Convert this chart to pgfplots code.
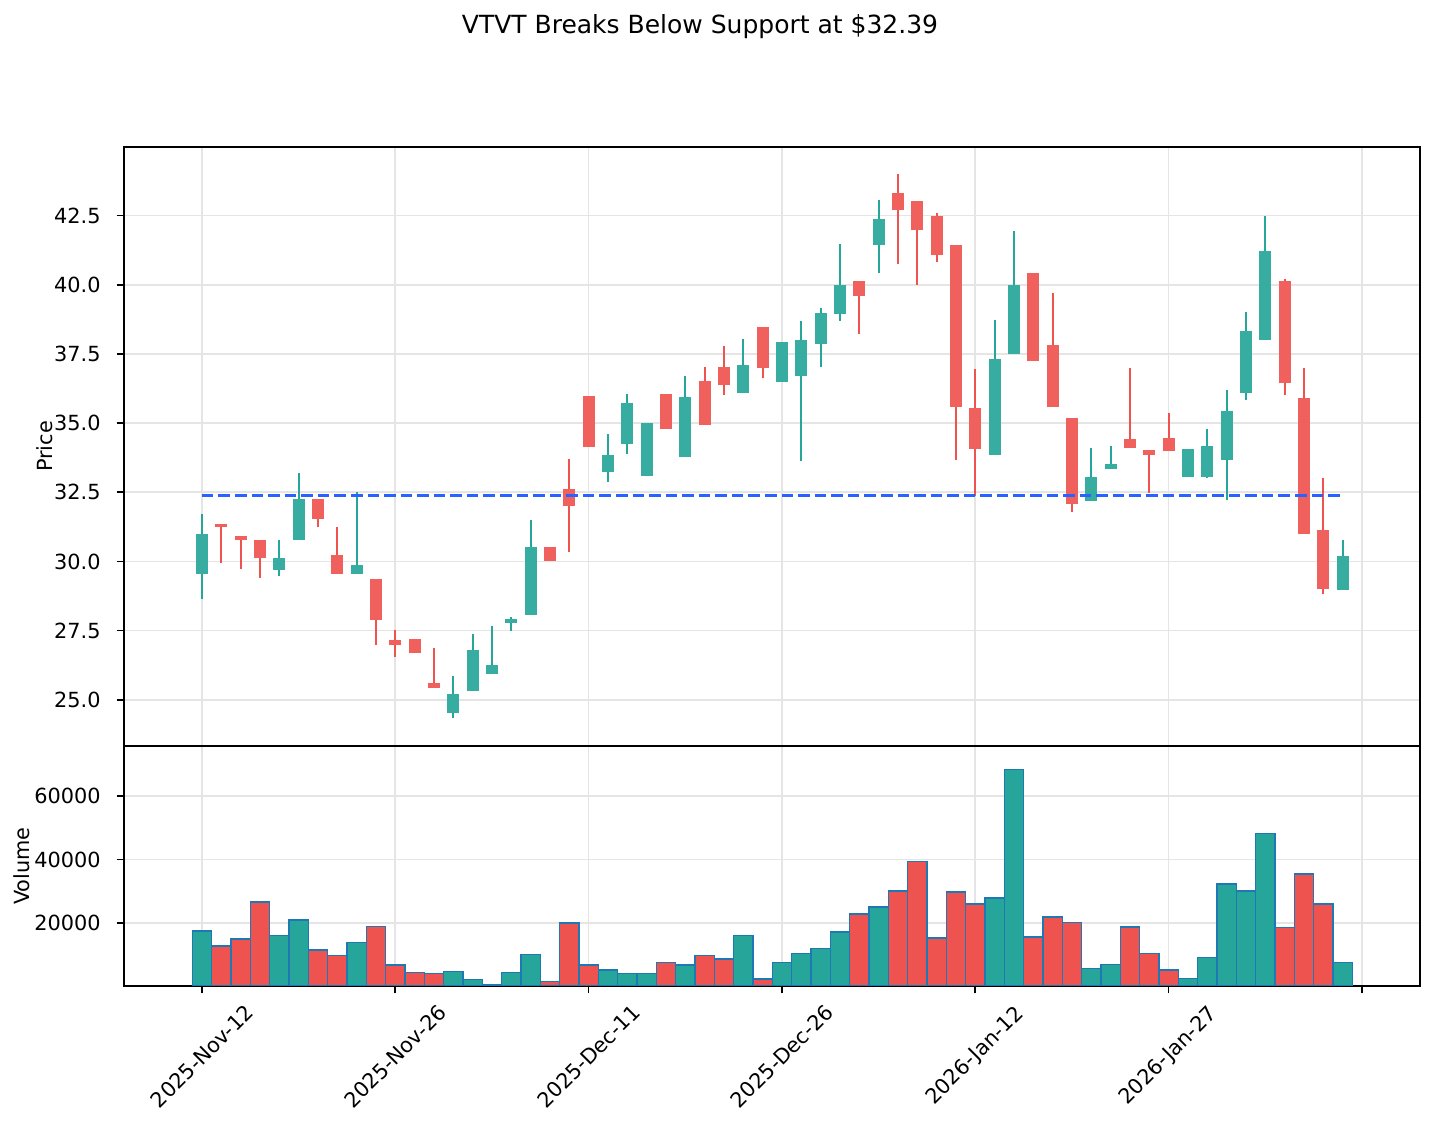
\documentclass[border=0pt]{standalone}
\usepackage{pgfplots}
\usepackage{pgfplotstable}
\usepackage{fontspec}
\setmainfont{DejaVu Sans}
\pgfplotsset{compat=1.18}

\definecolor{upcol}{HTML}{26A69A}
\definecolor{downcol}{HTML}{EF5350}
\definecolor{voledge}{HTML}{1F77B4}
\definecolor{supportcol}{HTML}{2962FF}
\definecolor{gridcol}{HTML}{E5E5E5}

% daily OHLC, x = trading-day index (0 = 2025-Nov-12)
\pgfplotstableread{
x o h l c
0 29.54 31.73 28.66 31.01
4 29.70 30.79 29.49 30.12
5 30.79 33.18 30.79 32.25
8 29.54 32.51 29.54 29.86
13 24.54 25.86 24.34 25.22
14 25.31 27.38 25.31 26.81
15 25.95 27.67 25.95 26.27
16 27.77 27.99 27.49 27.93
17 28.06 31.51 28.06 30.51
21 33.24 34.59 32.86 33.84
22 34.25 36.04 33.90 35.72
23 33.09 35.00 33.09 35.00
25 33.76 36.69 33.76 35.94
28 36.10 38.03 36.10 37.10
30 36.48 37.92 36.48 37.92
31 36.69 38.70 33.64 37.99
32 37.87 39.15 37.03 38.99
33 38.96 41.47 38.70 40.00
35 41.43 43.07 40.43 42.39
41 33.84 38.72 33.84 37.32
42 37.50 41.95 37.50 40.00
46 32.17 34.09 32.17 33.07
47 33.33 34.17 33.33 33.53
51 33.07 34.06 33.07 34.06
52 33.07 34.77 33.01 34.17
53 33.68 36.21 32.21 35.43
54 36.10 39.03 35.83 38.33
55 38.02 42.49 38.02 41.23
59 28.97 30.77 28.97 30.21
}\upcandles

\pgfplotstableread{
x o h l c
1 31.34 31.34 29.96 31.24
2 30.91 30.91 29.71 30.79
3 30.77 30.77 29.42 30.13
6 32.25 32.25 31.23 31.53
7 30.25 31.26 29.54 29.54
9 29.35 29.35 26.99 27.89
10 27.17 27.52 26.56 26.98
11 27.21 27.21 26.68 26.68
12 25.62 26.86 25.41 25.41
18 30.51 30.51 30.01 30.01
19 32.61 33.72 30.33 32.02
20 35.98 35.98 34.12 34.12
24 36.05 36.05 34.79 34.79
26 36.52 37.02 34.94 34.94
27 37.03 37.78 36.01 36.39
29 38.48 38.48 36.62 37.00
34 40.14 40.14 38.22 39.59
36 43.33 44.01 40.76 42.69
37 43.04 43.04 40.00 41.97
38 42.50 42.58 40.83 41.06
39 41.44 41.44 33.67 35.57
40 35.55 36.97 32.36 34.08
43 40.41 40.41 37.23 37.23
44 37.84 39.70 35.57 35.57
45 35.19 35.19 31.79 32.07
48 34.41 36.99 34.09 34.09
49 34.03 34.03 32.48 33.84
50 34.45 35.37 34.00 34.00
56 40.12 40.21 36.00 36.44
57 35.91 37.00 31.00 31.00
58 31.12 33.03 28.84 29.01
}\downcandles

% daily volume, split by candle direction
\pgfplotstableread{
x v
0 17400
4 15900
5 20900
8 13700
13 4500
14 2000
15 500
16 4200
17 9900
21 5000
22 3900
23 3900
25 6700
28 15900
30 7400
31 10200
32 11800
33 17100
35 25000
41 27800
42 68500
46 5600
47 6800
51 2300
52 9000
53 32200
54 30100
55 48300
59 7400
}\upvol

\pgfplotstableread{
x v
1 12700
2 14900
3 26600
6 11400
7 9600
9 18900
10 6700
11 4200
12 3900
18 1400
19 19900
20 6700
24 7400
26 9600
27 8600
29 2200
34 22800
36 30000
37 39400
38 15200
39 29700
40 25900
43 15500
44 21800
45 20000
48 18700
49 10200
50 5100
56 18500
57 35400
58 25900
}\downvol

\pgfplotsset{
  panel/.style={
    scale only axis,
    width=622.08pt,
    xmin=-4.03, xmax=63.0,
    xtick={0,10,20,30,40,50,60},
    xtick pos=lower, ytick pos=left,
    grid=major,
    major grid style={draw=gridcol, line width=0.8pt},
    axis line style={line width=0.8pt, black},
    tick align=outside,
    major tick length=3.5pt,
    tick style={black, line width=0.8pt},
    ticklabel style={font=\fontsize{10}{12}\selectfont},
    yticklabel style={anchor=east, xshift=-4.2pt},
    /pgf/number format/assume math mode=true,
  },
}

\begin{document}
\begin{tikzpicture}

% price panel
\begin{axis}[panel,
  at={(0,0)}, anchor=south west,
  height=287.52pt,
  ymin=23.33, ymax=44.98,
  ytick={25,27.5,30,32.5,35,37.5,40,42.5},
  yticklabel style={/pgf/number format/.cd, fixed, fixed zerofill, precision=1},
  xticklabels={},
  every axis y label/.style={at={(axis description cs:-0.0609,0.5)}, rotate=90,
    anchor=center, font=\fontsize{10}{12}\selectfont},
  ylabel={Price},
]
% wicks
\addplot[draw=none, mark=none, forget plot,
  error bars/.cd, y dir=plus, y explicit, error mark=none,
  error bar style={draw=upcol, line width=1pt}]
  table[x=x, y=l, y error plus expr=\thisrow{h}-\thisrow{l}] {\upcandles};
\addplot[draw=none, mark=none, forget plot,
  error bars/.cd, y dir=plus, y explicit, error mark=none,
  error bar style={draw=downcol, line width=1pt}]
  table[x=x, y=l, y error plus expr=\thisrow{h}-\thisrow{l}] {\downcandles};
% bodies
\addplot[draw=none, mark=none, forget plot,
  error bars/.cd, y dir=plus, y explicit, error mark=none,
  error bar style={draw=upcol!92!white, line width=5.8pt}]
  table[x=x, y=o, y error plus expr=\thisrow{c}-\thisrow{o}] {\upcandles};
\addplot[draw=none, mark=none, forget plot,
  error bars/.cd, y dir=plus, y explicit, error mark=none,
  error bar style={draw=downcol!92!white, line width=5.8pt}]
  table[x=x, y=c, y error plus expr=\thisrow{o}-\thisrow{c}] {\downcandles};
% support level
\addplot[supportcol, line width=1.5pt, dash pattern=on 5.55pt off 2.4pt]
  coordinates {(0,32.39) (59,32.39)};
\end{axis}

% volume panel
\begin{axis}[panel,
  at={(0,0)}, anchor=north west,
  height=115.2pt,
  ymin=0, ymax=75900,
  ytick={20000,40000,60000},
  scaled y ticks=false,
  yticklabel style={/pgf/number format/.cd, fixed, set thousands separator={}},
  xticklabels={2025-Nov-12,2025-Nov-26,2025-Dec-11,2025-Dec-26,2026-Jan-12,2026-Jan-27,{}},
  xticklabel style={yshift=-30.2pt, rotate=45, anchor=center},
  every axis y label/.style={at={(axis description cs:-0.0788,0.5)}, rotate=90,
    anchor=center, font=\fontsize{10}{12}\selectfont},
  ylabel={Volume},
]
\addplot[ybar, bar width=1, bar shift=0pt, fill=upcol, draw=voledge, line width=0.7pt]
  table[x=x, y=v] {\upvol};
\addplot[ybar, bar width=1, bar shift=0pt, fill=downcol, draw=voledge, line width=0.7pt]
  table[x=x, y=v] {\downvol};
\end{axis}

\node[anchor=base, font=\fontsize{12}{14}\selectfont] at (276.5pt,341.8pt)
  {VTVT Breaks Below Support at \$32.39};

\pgfresetboundingbox
\useasboundingbox (-59.52pt,-182.4pt) rectangle (629.28pt,358.08pt);
\end{tikzpicture}
\end{document}
